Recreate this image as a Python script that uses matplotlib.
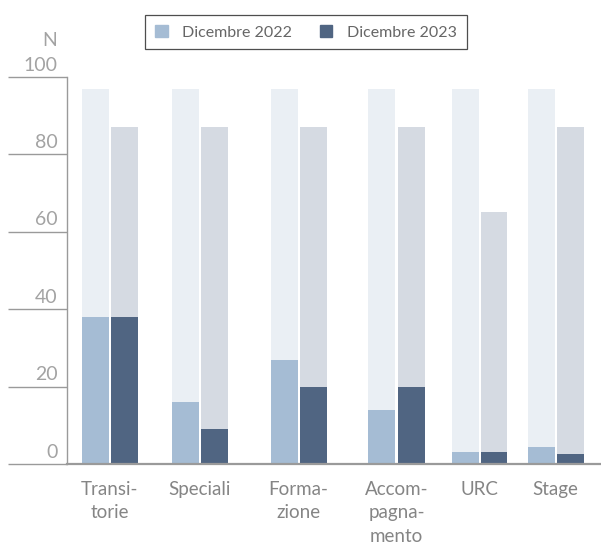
import matplotlib.pyplot as plt
import matplotlib.patches as mpatches
import matplotlib.transforms as mtransforms

categories = ["Transi-\ntorie", "Speciali", "Forma-\nzione", "Accom-\npagna-\nmento", "URC", "Stage"]
capacity_2022 = [97, 97, 97, 97, 97, 97]
capacity_2023 = [87, 87, 87, 87, 65, 87]
values_2022 = [38, 16, 27, 14, 3, 4.5]
values_2023 = [38, 9, 20, 20, 3, 2.5]
series_labels = ["Dicembre 2022", "Dicembre 2023"]
y_ticks = [0, 20, 40, 60, 80, 100]

# layout (group centres are not evenly spaced in the original)
group_pos = [0.425, 1.33, 2.315, 3.295, 4.125, 4.885]
bar_w = 0.27
off = 0.145

col_22, col_23 = "#a5bcd4", "#506582"
bg_22, bg_23 = "#eaeff4", "#d5dae2"
grey = "#9a9a9a"

plt.rcParams["font.family"] = ["Lato", "DejaVu Sans"]

fig = plt.figure(figsize=(6.01, 5.47), dpi=100)
ax = fig.add_axes([67 / 601, 1 - 464 / 547, 534 / 601, 387 / 547])

x22 = [p - off for p in group_pos]
x23 = [p + off for p in group_pos]
ax.bar(x22, capacity_2022, width=bar_w, color=bg_22, zorder=1)
ax.bar(x23, capacity_2023, width=bar_w, color=bg_23, zorder=1)
ax.bar(x22, values_2022, width=bar_w, color=col_22, zorder=2)
ax.bar(x23, values_2023, width=bar_w, color=col_23, zorder=2)

ax.set_xlim(0, 5.34)
ax.set_ylim(0, 100)

for s in ["top", "right"]:
    ax.spines[s].set_visible(False)
ax.spines["left"].set_color(grey)
ax.spines["left"].set_linewidth(1.0)
ax.spines["bottom"].set_color(grey)
ax.spines["bottom"].set_linewidth(1.6)

ax.set_yticks(y_ticks)
ax.tick_params(axis="y", direction="out", length=42.5, width=1.0, color=grey, labelleft=False)
trans = mtransforms.blended_transform_factory(ax.transAxes, ax.transData)
for v in y_ticks:
    ax.text(-0.018, v + 0.9, str(v), transform=trans, ha="right", va="bottom",
            fontsize=14, color="#a3a3a3")
ax.text(-0.018, 107.3, "N", transform=trans, ha="right", va="bottom",
        fontsize=14, color="#a3a3a3")

ax.set_xticks(group_pos)
ax.set_xticklabels(categories, fontsize=13.5, color="#858585",
                   linespacing=1.48, va="top")
ax.tick_params(axis="x", length=0, pad=12)

handles = [mpatches.Patch(color=col_22, label=series_labels[0]),
           mpatches.Patch(color=col_23, label=series_labels[1])]
leg = fig.legend(handles=handles, loc="upper center", bbox_to_anchor=(306 / 601, 1 - 7 / 547),
                 ncol=2, frameon=True, fancybox=False, edgecolor="#222222",
                 fontsize=11.5, handlelength=0.8, handleheight=0.8, handletextpad=0.9,
                 columnspacing=1.7, borderpad=0.62)
leg.get_frame().set_linewidth(0.9)
for t in leg.get_texts():
    t.set_color("#666666")

fig.savefig("out.png", dpi=100)
